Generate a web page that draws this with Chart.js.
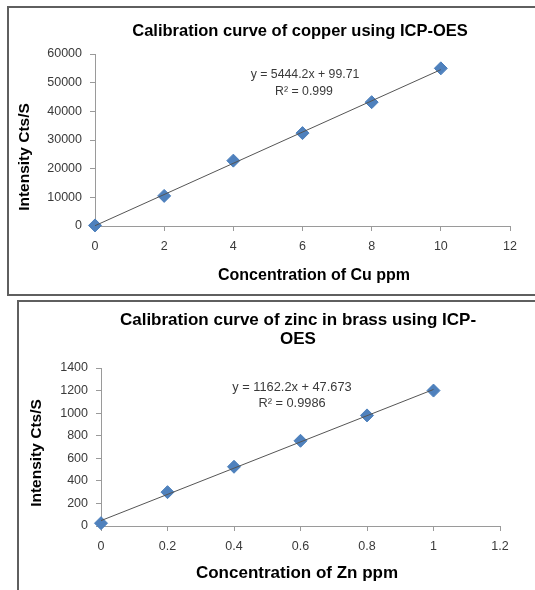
<!DOCTYPE html>
<html>
<head>
<meta charset="utf-8">
<script src="https://cdn.jsdelivr.net/npm/chart.js"></script>
<style>
  html, body { margin:0; padding:0; background:#fff; overflow:hidden; width:535px; height:590px; }
  .marco { position:absolute; border:2px solid #5f5f5f; box-sizing:border-box; }
  #marcoCu { left:7px; top:6px; width:600px; height:290px; }
  #marcoZn { left:17px; top:300px; width:600px; height:320px; }
  canvas { position:absolute; left:0; }
  #graficoCu { top:0; }
  #graficoZn { top:296px; }
</style>
</head>
<body>
<div class="marco" id="marcoCu"></div>
<div class="marco" id="marcoZn"></div>
<canvas id="graficoCu" width="535" height="296"></canvas>
<canvas id="graficoZn" width="535" height="294"></canvas>
<script>
// copper data
const cuConc = [0, 2, 4, 6, 8, 10]
const cuIntensity = [200, 10500, 22800, 32400, 43200, 55000]
const cuTrendX = [0, 10]
const cuTrendY = [99.71, 54541.71]
const cuXTicks = [0, 2, 4, 6, 8, 10, 12]
const cuYTicks = [0, 10000, 20000, 30000, 40000, 50000, 60000]

// zinc data
const znConc = [0, 0.2, 0.4, 0.6, 0.8, 1]
const znIntensity = [25, 300, 525, 755, 980, 1200]
const znTrendX = [0, 1]
const znTrendY = [47.673, 1209.873]
const znXTicks = [0, 0.2, 0.4, 0.6, 0.8, 1, 1.2]
const znYTicks = [0, 200, 400, 600, 800, 1000, 1200, 1400]

const fuente = "'Liberation Sans', Arial, sans-serif"
const gris = '#9a9a9a'

//plugin para los textos (titulo, ejes, ecuacion)
const textos = {
    id: 'textos',
    afterDraw(chart, args, opts) {
        const ctx = chart.ctx
        ctx.save()
        ctx.textAlign = 'center'
        ctx.textBaseline = 'middle'
        opts.items.forEach((t) => {
            ctx.font = t.font
            ctx.fillStyle = t.color || '#000'
            ctx.save()
            ctx.translate(t.x, t.y)
            if (t.rot) ctx.rotate(-Math.PI / 2)
            ctx.fillText(t.text, 0, 0)
            ctx.restore()
        })
        ctx.restore()
    }
}

function escala(ticks, fit) {
    return {
        type: 'linear',
        min: ticks[0],
        max: ticks[ticks.length - 1],
        afterBuildTicks: (s) => { s.ticks = ticks.map((v) => ({ value: v })) },
        afterFit: fit,
        grid: { drawOnChartArea: false, color: gris, tickLength: 5 },
        border: { color: gris },
        ticks: {
            padding: 8,
            color: '#3a3a3a',
            font: { family: fuente, size: 12.5 },
            callback: (v) => String(v)
        }
    }
}

function crearGrafico(id, d) {
    const config = {
        type: 'scatter',
        data: {
            datasets: [{
                type: 'line',
                data: d.trendX.map((x, i) => ({ x: x, y: d.trendY[i] })),
                borderColor: '#555',
                borderWidth: 1,
                pointRadius: 0,
                order: 0
            }, {
                data: d.x.map((x, i) => ({ x: x, y: d.y[i] })),
                pointStyle: 'rectRot',
                pointRadius: 6.5,
                backgroundColor: '#4f81bd',
                borderColor: '#4a7ebb',
                borderWidth: 1,
                clip: false,
                order: 1
            }]
        },
        options: {
            responsive: false,
            animation: false,
            events: [],
            layout: { padding: d.padding },
            scales: {
                x: escala(d.xTicks, (s) => { s.height = 30 }),
                y: escala(d.yTicks, (s) => { s.width = d.yWidth })
            },
            plugins: {
                legend: { display: false },
                tooltip: { enabled: false },
                textos: { items: d.textos }
            }
        },
        plugins: [textos]
    }
    return new Chart(document.getElementById(id), config)
}

const negrita = (px) => `bold ${px}px ${fuente}`
const normal = (px) => `${px}px ${fuente}`

crearGrafico('graficoCu', {
    x: cuConc, y: cuIntensity, trendX: cuTrendX, trendY: cuTrendY,
    xTicks: cuXTicks, yTicks: cuYTicks,
    yWidth: 95,
    padding: { top: 54, left: 0, right: 25, bottom: 40 },
    textos: [
        { text: 'Calibration curve of copper using ICP-OES', x: 300, y: 31, font: negrita(16.5) },
        { text: 'Concentration of Cu ppm', x: 314, y: 276, font: negrita(16) },
        { text: 'Intensity Cts/S', x: 25, y: 157, font: negrita(15.5), rot: true },
        { text: 'y = 5444.2x + 99.71', x: 305, y: 75, font: normal(12.3), color: '#3a3a3a' },
        { text: 'R² = 0.999', x: 304, y: 92, font: normal(12.3), color: '#3a3a3a' }
    ]
})

crearGrafico('graficoZn', {
    x: znConc, y: znIntensity, trendX: znTrendX, trendY: znTrendY,
    xTicks: znXTicks, yTicks: znYTicks,
    yWidth: 101,
    padding: { top: 72, left: 0, right: 35, bottom: 34 },
    textos: [
        { text: 'Calibration curve of zinc in brass using ICP-', x: 298, y: 24, font: negrita(17) },
        { text: 'OES', x: 298, y: 43, font: negrita(17) },
        { text: 'Concentration of Zn ppm', x: 297, y: 277, font: negrita(17) },
        { text: 'Intensity Cts/S', x: 37, y: 157, font: negrita(15.5), rot: true },
        { text: 'y = 1162.2x + 47.673', x: 292, y: 91, font: normal(12.8), color: '#3a3a3a' },
        { text: 'R² = 0.9986', x: 292, y: 107, font: normal(12.8), color: '#3a3a3a' }
    ]
})
</script>
</body>
</html>
